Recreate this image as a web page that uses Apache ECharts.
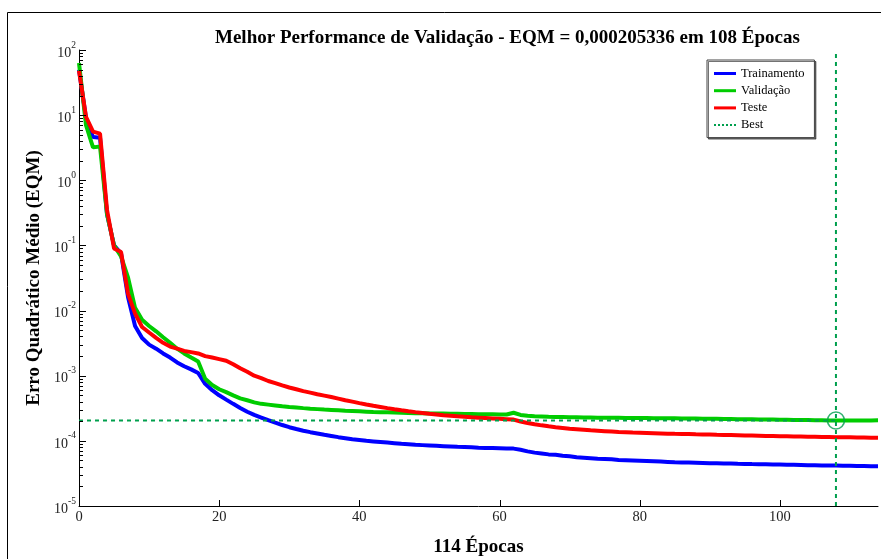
<!DOCTYPE html>
<html>
<head>
<meta charset="utf-8">
<script src="https://cdn.jsdelivr.net/npm/echarts@6/dist/echarts.min.js"></script>
<style>
html,body{margin:0;padding:0;background:#fff;}
#c{width:881px;height:559px;}
</style>
</head>
<body>
<div id="c"></div>
<script>
const epochs = Array.from({length: 115}, (_, i) => i);

const trainamento = [50, 9, 4.6, 4.5, 0.3, 0.1, 0.075, 0.016, 0.0058, 0.0038,
 0.003, 0.0026, 0.0022, 0.0019, 0.0016, 0.0014, 0.00125, 0.0011, 0.00075, 0.0006,
 0.0005, 0.00043, 0.00037, 0.00032, 0.00028, 0.00025, 0.000228, 0.000208, 0.00019, 0.000175,
 0.000162, 0.000152, 0.000143, 0.000136, 0.00013, 0.000124, 0.000119, 0.000114, 0.00011, 0.000106,
 0.000103, 0.0001, 0.000098, 0.000096, 0.000094, 0.000092, 0.00009, 0.000089, 0.000087, 0.000086,
 0.000085, 0.000084, 0.000083, 0.000082, 0.000081, 0.0000805, 0.00008, 0.0000785, 0.000078, 0.0000775,
 0.000077, 0.0000765, 0.000076, 0.000073, 0.000069, 0.000066, 0.000064, 0.000062, 0.000061, 0.000059,
 0.000058, 0.000056, 0.000055, 0.000054, 0.000053, 0.0000525, 0.000052, 0.000051, 0.0000505, 0.00005,
 0.0000495, 0.000049, 0.0000485, 0.000048, 0.0000475, 0.000047, 0.0000467, 0.0000464, 0.0000461, 0.0000458,
 0.0000455, 0.0000453, 0.000045, 0.0000448, 0.0000445, 0.0000443, 0.000044, 0.0000438, 0.0000436, 0.0000434,
 0.0000432, 0.000043, 0.0000428, 0.0000426, 0.0000424, 0.0000422, 0.000042, 0.0000419, 0.0000417, 0.0000415,
 0.0000414, 0.0000412, 0.0000411, 0.0000409, 0.0000408];

const validacao = [63, 7, 3.2, 3.3, 0.3, 0.1, 0.068, 0.032, 0.011, 0.0072,
 0.0058, 0.0048, 0.0039, 0.0032, 0.0026, 0.0022, 0.0019, 0.00165, 0.0009, 0.00072,
 0.00062, 0.00056, 0.0005, 0.00045, 0.00042, 0.00039, 0.00037, 0.00036, 0.00035, 0.00034,
 0.000332, 0.000325, 0.000318, 0.000312, 0.000307, 0.000302, 0.000298, 0.000294, 0.00029, 0.000287,
 0.000284, 0.000281, 0.000278, 0.000276, 0.000274, 0.000272, 0.00027, 0.000268, 0.000266, 0.000265,
 0.000264, 0.000263, 0.000262, 0.000261, 0.00026, 0.000259, 0.000258, 0.000257, 0.000256, 0.000255,
 0.000254, 0.000254, 0.00027, 0.00025, 0.000242, 0.000238, 0.000236, 0.000234, 0.000233, 0.000232,
 0.000231, 0.00023, 0.000229, 0.000228, 0.000227, 0.0002265, 0.000226, 0.0002255, 0.000225, 0.0002245,
 0.000224, 0.0002235, 0.000223, 0.0002225, 0.000222, 0.0002215, 0.000221, 0.0002203, 0.0002196, 0.0002189,
 0.0002182, 0.0002175, 0.0002168, 0.0002161, 0.0002154, 0.0002147, 0.000214, 0.0002133, 0.0002126, 0.0002119,
 0.0002112, 0.0002105, 0.0002098, 0.0002091, 0.0002084, 0.0002077, 0.000207, 0.0002062, 0.000205336, 0.0002055,
 0.0002057, 0.0002059, 0.000206, 0.0002062, 0.0002064];

const teste = [48, 9.4, 5.6, 5.2, 0.35, 0.09, 0.079, 0.018, 0.009, 0.0056,
 0.0046, 0.0038, 0.0032, 0.0028, 0.0026, 0.0024, 0.0023, 0.0022, 0.002, 0.0019,
 0.0018, 0.0017, 0.0015, 0.0013, 0.00115, 0.001, 0.00092, 0.00083, 0.00077, 0.00071,
 0.00066, 0.00062, 0.00058, 0.00055, 0.00052, 0.000495, 0.00047, 0.000445, 0.00042, 0.0004,
 0.00038, 0.000362, 0.000346, 0.000332, 0.000318, 0.000306, 0.000295, 0.000285, 0.000276, 0.000268,
 0.00026, 0.000254, 0.000248, 0.000243, 0.000238, 0.000234, 0.00023, 0.000227, 0.000224, 0.000221,
 0.000218, 0.000215, 0.000212, 0.000198, 0.000188, 0.00018, 0.000173, 0.000167, 0.000162, 0.000158,
 0.000154, 0.000151, 0.000148, 0.000145, 0.000143, 0.000141, 0.000139, 0.000137, 0.000136, 0.000134,
 0.000133, 0.000132, 0.000131, 0.00013, 0.000129, 0.000128, 0.0001275, 0.000127, 0.000126, 0.0001255,
 0.000125, 0.000124, 0.0001233, 0.0001226, 0.0001219, 0.0001212, 0.0001205, 0.0001198, 0.0001191, 0.0001184,
 0.0001177, 0.0001172, 0.0001167, 0.0001162, 0.0001157, 0.0001152, 0.0001147, 0.0001143, 0.0001139, 0.0001135,
 0.0001131, 0.0001127, 0.0001124, 0.0001121, 0.0001118];

const bestEpoch = 108;
const bestValue = 0.000205336;
const xTickValues = [0, 20, 40, 60, 80, 100];
const yDecades = [-5, -4, -3, -2, -1, 0, 1, 2];
const yRange = [1e-5, 100];

const serif = 'Liberation Serif';
const bestColor = '#009f4d';
const toXY = arr => arr.map((v, i) => [epochs[i], v]);
const dottedIcon = 'path://M0,0h2v2h-2zM4,0h2v2h-2zM8,0h2v2h-2zM12,0h2v2h-2zM16,0h2v2h-2zM20,0h2v2h-2z';

const chart = echarts.init(document.getElementById('c'), null, {renderer: 'canvas'});
chart.setOption({
  animation: false,
  backgroundColor: '#fff',
  title: {
    text: 'Melhor Performance de Validação - EQM = 0,000205336 em 108 Épocas',
    left: 210, top: 24,
    textStyle: {fontFamily: serif, fontWeight: 'bold', fontSize: 19, color: '#000'}
  },
  legend: {
    orient: 'vertical',
    left: 707, top: 60,
    padding: [7, 10, 6, 7],
    itemWidth: 22, itemHeight: 3, itemGap: 4.2,
    backgroundColor: '#fff',
    borderColor: '#444', borderWidth: 1,
    shadowColor: 'rgba(0,0,0,0.55)', shadowOffsetX: 1.5, shadowOffsetY: 1.5, shadowBlur: 0,
    textStyle: {fontFamily: serif, fontSize: 12.5, lineHeight: 13, color: '#000'},
    data: [
      {name: 'Trainamento', icon: 'rect'},
      {name: 'Validação', icon: 'rect'},
      {name: 'Teste', icon: 'rect'},
      {name: 'Best', icon: dottedIcon}
    ]
  },
  grid: {left: 79, right: 3, top: 50, bottom: 53, containLabel: false, outerBoundsMode: 'none'},
  xAxis: {
    type: 'value', min: 0, max: 114, interval: 20,
    name: '114 Épocas', nameLocation: 'middle', nameGap: 32,
    nameTextStyle: {fontFamily: serif, fontWeight: 'bold', fontSize: 19, color: '#000'},
    axisLine: {show: true, lineStyle: {color: '#000', width: 1}},
    axisTick: {show: false},
    axisLabel: {fontFamily: serif, fontSize: 14.5, color: '#222', margin: 4, customValues: xTickValues},
    splitLine: {show: false}
  },
  yAxis: {
    type: 'log', logBase: 10, min: yRange[0], max: yRange[1],
    name: 'Erro Quadrático Médio (EQM)', nameLocation: 'middle', nameGap: 32,
    nameTextStyle: {fontFamily: serif, fontWeight: 'bold', fontSize: 19, color: '#000'},
    axisLine: {show: true, lineStyle: {color: '#000', width: 1}},
    axisTick: {show: false},
    axisLabel: {
      margin: 3,
      formatter: v => '{b|10}{s|' + Math.round(Math.log10(v)) + '}',
      rich: {
        b: {fontFamily: serif, fontSize: 14, color: '#222', lineHeight: 20, verticalAlign: 'bottom'},
        s: {fontFamily: serif, fontSize: 9.5, color: '#222', lineHeight: 11, verticalAlign: 'top'}
      }
    },
    splitLine: {show: false}
  },
  series: [
    {name: 'Trainamento', type: 'line', data: toXY(trainamento), showSymbol: false, symbol: 'none',
     lineStyle: {color: '#0000ff', width: 4}, itemStyle: {color: '#0000ff'}, z: 2},
    {name: 'Validação', type: 'line', data: toXY(validacao), showSymbol: false, symbol: 'none',
     lineStyle: {color: '#00cc00', width: 4}, itemStyle: {color: '#00cc00'}, z: 3},
    {name: 'Teste', type: 'line', data: toXY(teste), showSymbol: false, symbol: 'none',
     lineStyle: {color: '#ff0000', width: 4}, itemStyle: {color: '#ff0000'}, z: 4},
    {name: 'Best', type: 'line', data: [[0, bestValue], [bestEpoch, bestValue]], showSymbol: false, symbol: 'none',
     lineStyle: {color: bestColor, width: 2, type: [4, 4]}, itemStyle: {color: bestColor}, z: 5},
    {name: 'Best', type: 'line', data: [[bestEpoch, yRange[0]], [bestEpoch, yRange[1]]], showSymbol: false, symbol: 'none',
     lineStyle: {color: bestColor, width: 2, type: [4, 4]}, itemStyle: {color: bestColor}, z: 5},
    {name: 'BestPoint', type: 'scatter', data: [[bestEpoch, bestValue]], symbol: 'circle', symbolSize: 17,
     itemStyle: {color: 'rgba(0,0,0,0)', borderColor: bestColor, borderWidth: 1.6}, z: 6}
  ]
});

// axis ticks (inside), positioned through the chart's own scales
const elements = [{
  type: 'rect', silent: true, z: -1,
  shape: {x: 7.5, y: 12.5, width: 900, height: 600},
  style: {fill: null, stroke: '#000', lineWidth: 1}
}];
const px = v => chart.convertToPixel({xAxisIndex: 0, yAxisIndex: 0}, v);
const tickLine = (x1, y1, x2, y2) => ({
  type: 'line', silent: true, z: 10,
  shape: {x1, y1, x2, y2}, style: {stroke: '#000', lineWidth: 1}
});
yDecades.forEach(d => {
  const p = px([0, Math.pow(10, d)]);
  const y = Math.round(p[1]) + 0.5;
  elements.push(tickLine(p[0], y, p[0] + 7, y));
  if (d < 2) {
    for (let k = 2; k <= 9; k++) {
      const q = px([0, k * Math.pow(10, d)]);
      const yy = Math.round(q[1]) + 0.5;
      elements.push(tickLine(q[0], yy, q[0] + 4, yy));
    }
  }
});
xTickValues.forEach(v => {
  const p = px([v, yRange[0]]);
  const x = Math.round(p[0]) + 0.5;
  elements.push(tickLine(x, p[1], x, p[1] - 6));
});
chart.setOption({graphic: {elements}});
</script>
</body>
</html>
